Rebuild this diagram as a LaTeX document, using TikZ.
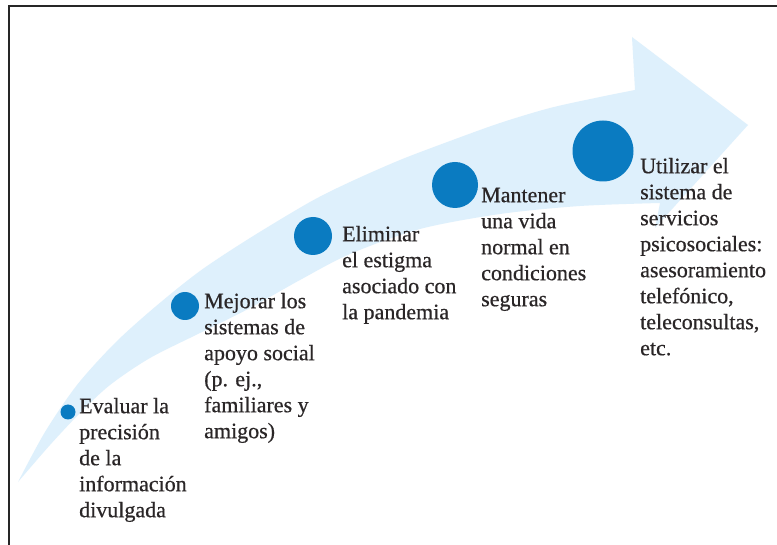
\documentclass[tikz,border=0pt]{standalone}
\usepackage{fontspec}
\setmainfont{Liberation Serif}
\newfontfamily\labelfont{Liberation Serif}[FakeBold=0.6]
\definecolor{bandblue}{HTML}{DEF0FC}
\definecolor{dotblue}{HTML}{0A7BC1}
\definecolor{ink}{HTML}{2A2627}
\begin{document}
\begin{tikzpicture}[x=1pt,y=-1pt,
  dot/.style={circle,fill=dotblue,inner sep=0pt,minimum size=#1},
  lbl/.style={anchor=north west,align=left,inner sep=0pt,text=ink,
              font=\labelfont\fontsize{22}{26}\selectfont}]
\useasboundingbox (0,0) rectangle (777,545);
\fill[white] (0,0) rectangle (777,545);
% curved arrow band
\fill[bandblue]
  plot[smooth,tension=0.5] coordinates {(18,482) (45,432) (77,385) (115,343) (155,307) (200,271) (250,238) (310,202) (350,182) (400,160) (450,141) (500,123) (550,108) (600,97) (635,90)}
  -- (632,37) -- (748,125) -- (655,228) -- (660,203)
  -- plot[smooth,tension=0.5] coordinates {(660,203) (580,206) (500,214) (420,229) (350,254) (300,280) (250,308) (200,333) (150,358) (110,385) (80,413) (50,445) (18,482)}
  -- cycle;
% frame
\draw[line width=2pt,black!85] (8.5,545) -- (8.5,6) -- (777,6);
% dots
\node[dot=15pt] (d1) at (68,412) {};
\node[dot=28pt] (d2) at (185,306) {};
\node[dot=38pt] (d3) at (313,236) {};
\node[dot=46pt] (d4) at (455,185) {};
\node[dot=61pt] (d5) at (603,151) {};
% labels
\node[lbl] (t1) at (79,394.8) {\strut Evaluar la\\precisión\\de la\\información\\divulgada};
\node[lbl] (t2) at (204,289.8) {\strut Mejorar los\\sistemas de\\apoyo social\\(p. ej.,\\familiares y\\amigos)};
\node[lbl] (t3) at (342,222.8) {\strut Eliminar\\el estigma\\asociado con\\la pandemia};
\node[lbl] (t4) at (481,183.8) {\strut Mantener\\una vida\\normal en\\condiciones\\seguras};
\node[lbl] (t5) at (640,154.8) {\strut Utilizar el\\sistema de\\servicios\\psicosociales:\\asesoramiento\\telefónico,\\teleconsultas,\\etc.};
\end{tikzpicture}
\end{document}
